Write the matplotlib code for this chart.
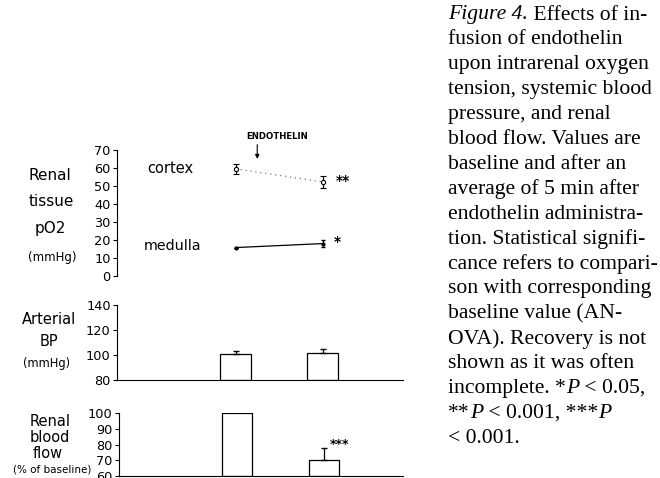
import matplotlib
matplotlib.use("Agg")
import matplotlib.pyplot as plt

# data
conditions = [0, 1]  # baseline, endothelin
cortex = [59.5, 52.3]
cortex_err = [3.0, 3.5]
medulla = [15.8, 18.0]
medulla_err = [0.0, 2.0]
bp = [101, 102]
bp_err = [2.5, 2.5]
rbf = [100, 70]
rbf_err = [0, 7.5]

caption = ["fusion of endothelin", "upon intrarenal oxygen",
           "tension, systemic blood", "pressure, and renal", "blood flow. Values are",
           "baseline and after an", "average of 5 min after", "endothelin administra-",
           "tion. Statistical signifi-", "cance refers to compari-", "son with corresponding",
           "baseline value (AN-", "OVA). Recovery is not", "shown as it was often"]

W, H = 660, 478
fig = plt.figure(figsize=(6.6, 4.78), dpi=100)
renderer = fig.canvas.get_renderer()

x_right = 403
lw = 0.8


def make_ax(y_top, y_bot, x_left=117):
    ax = fig.add_axes([x_left / W, 1 - y_bot / H, (x_right - x_left) / W, (y_bot - y_top) / H])
    # same data->pixel mapping for all panels: x=0 at 235.5 px, 87 px per unit
    ax.set_xlim((x_left - 235.5) / 87, (x_right - 235.5) / 87)
    ax.set_facecolor("none")
    for s in ["top", "right"]:
        ax.spines[s].set_visible(False)
    ax.spines["left"].set_linewidth(lw)
    ax.spines["bottom"].set_linewidth(lw)
    ax.set_xticks([])
    ax.tick_params(axis="y", length=3, width=lw, labelsize=9.3, pad=1.5)
    return ax


# top: tissue pO2
ax1 = make_ax(150, 276)
ax1.set_ylim(0, 70)
ax1.set_yticks(range(0, 71, 10))
ax1.spines["bottom"].set_visible(False)
ax1.plot(conditions, cortex, color="#777777", linestyle=(0, (1, 3)), lw=0.9)
ax1.errorbar(conditions, cortex, yerr=cortex_err, fmt="o", ms=3, mfc="white", mec="black",
             mew=0.8, ecolor="black", elinewidth=0.9, capsize=2)
ax1.plot(conditions, medulla, color="black", lw=0.9)
ax1.errorbar(conditions, medulla, yerr=medulla_err, fmt="o", ms=2, color="black",
             elinewidth=0.9, capsize=1.5)
ax1.text(-0.75, 59.5, "cortex", fontsize=10.5, ha="center", va="center")
ax1.text(-0.72, 16.5, "medulla", fontsize=10.3, ha="center", va="center")
ax1.text(1.15, 53, "**", fontsize=10, fontweight="bold", ha="left", va="center")
ax1.text(1.13, 19, "*", fontsize=10, fontweight="bold", ha="left", va="center")
ax1.annotate("", xy=(0.25, 63.5), xytext=(0.25, 74.5),
             arrowprops=dict(arrowstyle="-|>", color="black", lw=0.8, mutation_scale=6),
             annotation_clip=False)
ax1.text(0.48, 77.5, "ENDOTHELIN", fontsize=6.2, fontweight="bold", ha="center",
         va="center", clip_on=False)

# middle: arterial BP
ax2 = make_ax(305, 380)
ax2.set_ylim(80, 140)
ax2.set_yticks([80, 100, 120, 140])
ax2.bar(conditions, [v - 80 for v in bp], bottom=80, width=0.345, color="white",
        edgecolor="black", lw=0.9)
ax2.errorbar(conditions, bp, yerr=[[0, 0], bp_err], fmt="none", ecolor="black",
             elinewidth=0.9, capsize=2)

# bottom: renal blood flow
ax3 = make_ax(413, 476, x_left=119)
ax3.set_ylim(60, 100)
ax3.set_yticks([60, 70, 80, 90, 100])
ax3.bar([c + 0.02 for c in conditions], [v - 60 for v in rbf], bottom=60, width=0.345,
        color="white", edgecolor="black", lw=0.9)
ax3.errorbar([1.02], [rbf[1]], yerr=[[0], [rbf_err[1]]], fmt="none", ecolor="black",
             elinewidth=0.9, capsize=2)
ax3.text(1.08, 80, "***", fontsize=9, fontweight="bold", ha="left", va="center")

# left side labels
side = [("Renal", 50, 175, 11), ("tissue", 51, 201, 11), ("pO2", 50, 228, 11),
        ("(mmHg)", 52, 257, 8.5),
        ("Arterial", 49, 320, 10.5), ("BP", 49, 341, 10.5), ("(mmHg)", 47, 363, 8.3),
        ("Renal", 50, 422, 10.5), ("blood", 50, 437, 10.5), ("flow", 48, 453, 10.5),
        ("(% of baseline)", 52, 470, 7.5)]
for txt, x, y, fs in side:
    fig.text(x / W, 1 - y / H, txt, fontsize=fs, ha="center", va="center")

# caption on the right, drawn run by run so italic parts sit inline
cx = 448
y0 = 15
step = 24.9
fs_cap = 15.6


def caption_line(runs, y):
    x = cx
    for s, style in runs:
        t = fig.text(x / W, 1 - y / H, s, fontsize=fs_cap, family="Liberation Serif",
                     style=style, va="center")
        x = t.get_window_extent(renderer).x1


lines = [[("Figure 4.", "italic"), (" Effects of in-", "normal")]]
lines += [[(c, "normal")] for c in caption]
lines += [[("incomplete. *", "normal"), ("P", "italic"), (" < 0.05,", "normal")],
          [("**", "normal"), ("P", "italic"), (" < 0.001, ***", "normal"), ("P", "italic")],
          [("< 0.001.", "normal")]]
for i, runs in enumerate(lines):
    caption_line(runs, y0 + i * step)

fig.savefig("out.png", dpi=100)
